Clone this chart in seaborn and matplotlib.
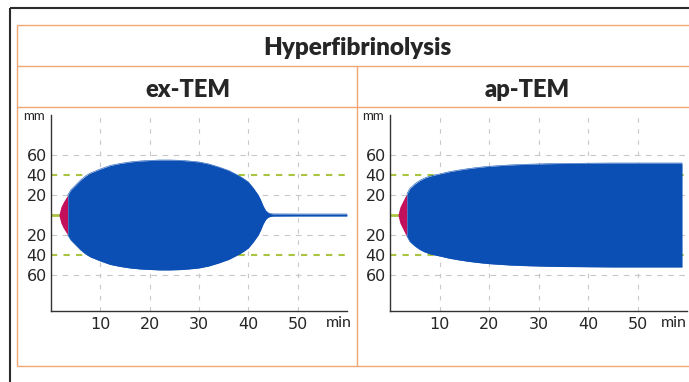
import numpy as np
import pandas as pd
import matplotlib
matplotlib.use("Agg")
import matplotlib.pyplot as plt
from matplotlib.lines import Line2D
import seaborn as sns

# ---- trace data: time (min) and half-amplitude (mm) of the ROTEM trace ----
panel_titles = ["ex-TEM", "ap-TEM"]
chart_title = "Hyperfibrinolysis"

# ex-TEM: clotting phase (red) then clot firmness with lysis (blue)
ex_cft_time = [1.6, 2.0, 2.5, 3.0, 3.4]
ex_cft_amp = [0, 8, 13, 17, 20]
ex_time = [3.4, 4, 5, 6, 7, 8, 10, 12, 14, 16, 18, 20, 22, 24, 26, 28, 30,
           32, 34, 36, 38, 39, 40, 41, 42, 42.5, 43, 43.5, 44, 44.5, 45, 50, 55, 60]
ex_amp = [20, 25, 30, 35, 39, 42, 46, 49.5, 51.5, 53, 54, 54.5, 55, 55, 54.7, 54, 53,
          51, 48, 44.5, 39.5, 36.5, 33, 27, 20, 15, 9, 4.5, 2.3, 1.4, 1.1, 1.0, 1.0, 1.0]

# ap-TEM: aprotinin suppresses the lysis, amplitude stays on a plateau
ap_cft_time = [1.6, 2.0, 2.5, 3.0, 3.4]
ap_cft_amp = [0, 8, 13, 18, 21]
ap_time = [3.4, 4, 5, 6, 7, 8, 9, 10, 12, 14, 16, 18, 20, 24, 28, 32, 36, 40, 45, 50, 55, 59]
ap_amp = [21, 26.5, 31, 34.5, 37, 38.8, 40, 41, 43.3, 45, 46.5, 47.7, 48.7, 50, 50.8,
          51.3, 51.6, 51.8, 52, 52, 52, 52]

# axis ticks
x_ticks = [10, 20, 30, 40, 50]
y_ticks = [60, 40, 20, -20, -40, -60]
y_tick_labels = ["60", "40", "20", "20", "40", "60"]
grey_levels = [60, 20, -20, -60]
green_levels = [40, -40]

# ---- style ----
sns.set_theme(style="white")
plt.rcParams["font.family"] = ["Lato", "DejaVu Sans"]

BLUE = "#0b4fb5"
RED = "#c3105c"
GREEN = "#a9c440"
GREY = "#c8c8c8"
ORANGE = "#f1a675"
TEXT = "#262626"
FRAME = "#2b2b2b"
TICK_FONT = ["DejaVu Sans"]

W, H = 689, 382
fig = plt.figure(figsize=(W / 100, H / 100), dpi=100)
fig.patch.set_facecolor("white")


def fx(x):
    return x / W


def fy(y):
    return 1 - y / H


def px_axes(x0, y0, x1, y1):
    return fig.add_axes([fx(x0), fy(y1), (x1 - x0) / W, (y1 - y0) / H])


def fig_line(xs, ys, color, lw):
    fig.add_artist(Line2D([fx(v) for v in xs], [fy(v) for v in ys],
                          transform=fig.transFigure, color=color, lw=lw,
                          solid_capstyle="butt"))


# outer black frame
fig_line([10, 10], [8, 400], FRAME, 1.5)
fig_line([10, 700], [8, 8], FRAME, 1.5)

# orange table rules
for yy in (25, 66, 107, 366):
    fig_line([17, 700], [yy, yy], ORANGE, 1.0)
fig_line([17, 17], [25, 366], ORANGE, 1.0)
fig_line([357, 357], [66, 366], ORANGE, 1.0)

# titles
fig.text(fx(357), fy(55), chart_title, ha="center", va="baseline",
         fontsize=17.5, fontweight="heavy", color=TEXT)
fig.text(fx(188), fy(97), panel_titles[0], ha="center", va="baseline",
         fontsize=17, fontweight="heavy", color=TEXT)
fig.text(fx(527), fy(97), panel_titles[1], ha="center", va="baseline",
         fontsize=17, fontweight="heavy", color=TEXT)

panels = [
    dict(x0=51, x1=347, cft_t=ex_cft_time, cft_a=ex_cft_amp, t=ex_time, a=ex_amp),
    dict(x0=390, x1=687, cft_t=ap_cft_time, cft_a=ap_cft_amp, t=ap_time, a=ap_amp),
]

for i, p in enumerate(panels):
    ax = px_axes(p["x0"], 115, p["x1"], 311)
    ax.set_facecolor("white")
    ax.set_xlim(0, 60)
    ax.set_ylim(-96, 100)

    # dashed reference grid
    for xv in x_ticks:
        ax.axvline(xv, color=GREY, lw=0.8, ls=(0, (4, 6)), zorder=1)
    for yv in grey_levels:
        ax.axhline(yv, color=GREY, lw=0.8, ls=(0, (5, 5)), zorder=1)
    for yv in green_levels:
        ax.axhline(yv, color=GREEN, lw=1.5, ls=(0, (3, 3)), zorder=1)

    # flat trace before clotting starts
    base = pd.DataFrame({"t": [0, p["cft_t"][0]], "a": [0, 0]})
    sns.lineplot(data=base, x="t", y="a", ax=ax, color=GREEN, lw=2.0, zorder=2)

    # clot formation phase
    cft = pd.DataFrame({"t": p["cft_t"], "a": p["cft_a"]})
    ax.fill_between(cft["t"], -cft["a"], cft["a"], color=RED, lw=0, zorder=3)

    # clot firmness trace
    tr = pd.DataFrame({"t": p["t"], "a": p["a"]})
    ax.fill_between(tr["t"], -tr["a"], tr["a"], color=BLUE, lw=0, zorder=4)
    sns.lineplot(x=tr["t"], y=tr["a"], ax=ax, color=BLUE, lw=0.4, zorder=4)
    sns.lineplot(x=tr["t"], y=-tr["a"], ax=ax, color=BLUE, lw=0.4, zorder=4)

    ax.set_xlabel("")
    ax.set_ylabel("")
    ax.set_xticks(x_ticks)
    ax.set_xticklabels([str(v) for v in x_ticks], family=TICK_FONT)
    ax.set_yticks(y_ticks)
    ax.set_yticklabels(y_tick_labels, family=TICK_FONT)
    ax.tick_params(axis="both", length=0, labelsize=11.5, labelcolor=TEXT)
    ax.tick_params(axis="x", pad=4.5)
    ax.tick_params(axis="y", pad=3)
    for side in ("top", "right"):
        ax.spines[side].set_visible(False)
    for side in ("left", "bottom"):
        ax.spines[side].set_color("#333333")
        ax.spines[side].set_linewidth(1.0)

    # unit labels
    fig.text(fx(p["x0"] - 17), fy(116), "mm", ha="center", va="center",
             fontsize=9.5, color=TEXT)
    min_x = p["x0"] + 275 if i == 0 else W - 2
    fig.text(fx(min_x), fy(323), "min", ha="left" if i == 0 else "right",
             va="center", fontsize=11.5, color=TEXT)

fig.savefig("out.png", dpi=100, facecolor="white")
